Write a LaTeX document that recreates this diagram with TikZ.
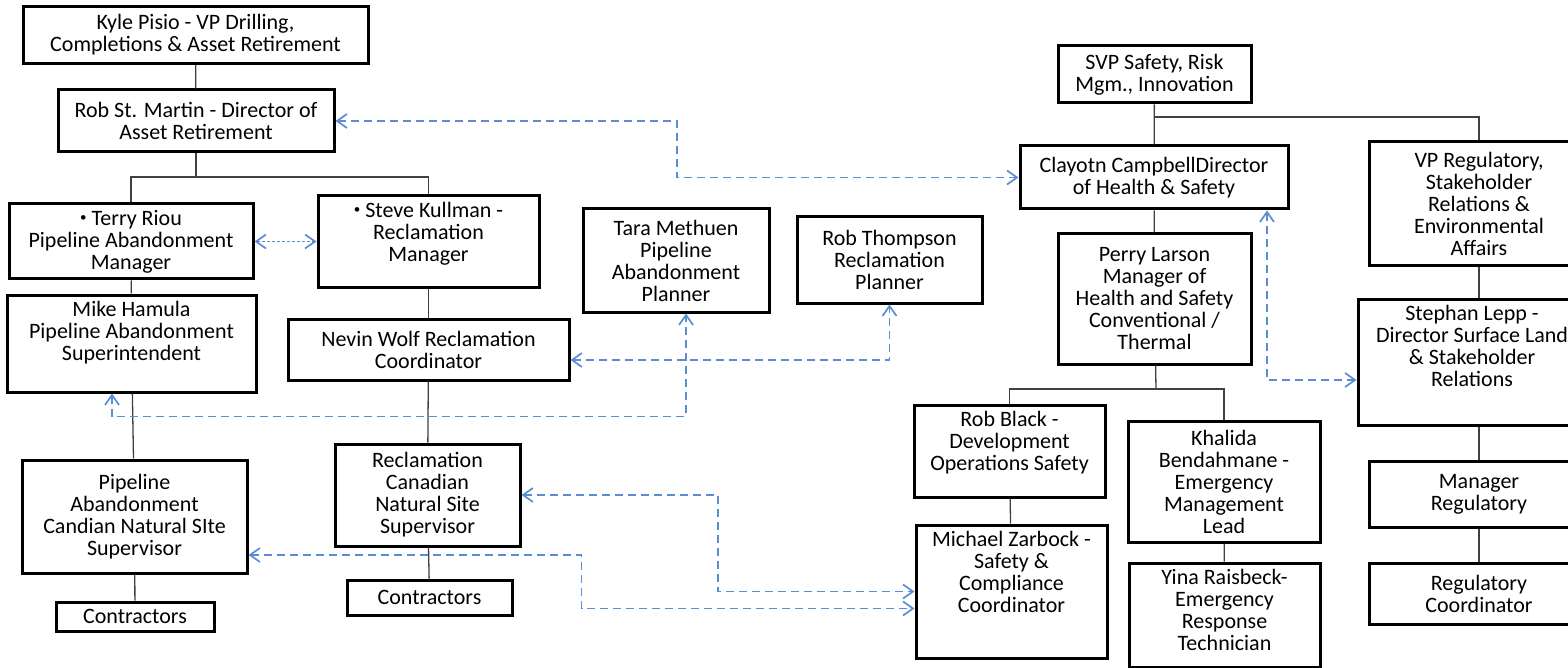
\documentclass[tikz,border=0pt]{standalone}
\usepackage{fontspec}
\setmainfont{Carlito}
\usetikzlibrary{arrows.meta, calc}
\definecolor{relblue}{RGB}{91,141,210}
\definecolor{linkgray}{RGB}{64,64,64}
\newcommand{\dotmark}{\raisebox{4pt}{\fontsize{13}{13}\selectfont\textbullet}}

\begin{document}
\begin{tikzpicture}[
    x=1pt, y=-1pt,
    box/.style={rectangle, draw, line width=3pt, align=center, inner sep=5pt, font=\fontsize{22}{22}\selectfont},
    link/.style={draw=linkgray, line width=1.3pt},
    rel/.style={draw=relblue, line width=1.7pt, dash pattern=on 8pt off 5pt, {Straight Barb[length=10pt,width=14pt]}-{Straight Barb[length=10pt,width=14pt]}},
    relfine/.style={rel, dash pattern=on 3pt off 2pt}
]
\useasboundingbox (0,0) rectangle (1568,668);
\clip (0,0) rectangle (1568,668);

% asset retirement
\node[box, minimum width=345pt, minimum height=57pt] (kyle) at (195.5,35) {Kyle Pisio - VP Drilling,\\Completions \& Asset Retirement};
\node[box, minimum width=276pt, minimum height=62pt] (rsm) at (196,121) {Rob St. Martin - Director of\\Asset Retirement};
\node[box, minimum width=244pt, minimum height=75pt] (terry) at (131,241.5) {\dotmark\ Terry Riou\\Pipeline Abandonment\\Manager};
\node[box, minimum width=221pt, minimum height=91pt, text depth=19pt] (steve) at (428.5,241.5) {\dotmark\ Steve Kullman -\\Reclamation\\Manager};
\node[box, minimum width=249pt, minimum height=97pt, text depth=25pt] (mike) at (131.5,343.5) {Mike Hamula\\Pipeline Abandonment\\Superintendent};
\node[box, minimum width=281pt, minimum height=61pt] (nevin) at (428.5,349.5) {Nevin Wolf Reclamation\\Coordinator};
\node[box, minimum width=186pt, minimum height=103pt] (tara) at (676,260.5) {Tara Methuen\\Pipeline\\Abandonment\\Planner};
\node[box, minimum width=185pt, minimum height=86pt] (thompson) at (889.5,260) {Rob Thompson\\Reclamation\\Planner};
\node[box, minimum width=225pt, minimum height=113pt] (plsup) at (134.5,516.5) {Pipeline\\Abandonment\\Candian Natural SIte\\Supervisor};
\node[box, minimum width=185pt, minimum height=102pt] (recsup) at (427.5,495) {Reclamation\\Canadian\\Natural Site\\Supervisor};
\node[box, minimum width=158pt, minimum height=29pt] (plcon) at (135,616.5) {Contractors};
\node[box, minimum width=165pt, minimum height=35pt] (reccon) at (429.5,597.5) {Contractors};

% safety and regulatory
\node[box, minimum width=193pt, minimum height=57pt] (svp) at (1154.5,74.5) {SVP Safety, Risk\\Mgm., Innovation};
\node[box, minimum width=268pt, minimum height=63pt] (clayotn) at (1154,177.5) {Clayotn CampbellDirector\\of Health \& Safety};
\node[box, minimum width=193pt, minimum height=130pt] (perry) at (1154.5,299) {Perry Larson\\Manager of\\Health and Safety\\Conventional /\\Thermal};
\node[box, minimum width=191pt, minimum height=92pt, text depth=20pt] (robblack) at (1009.5,451) {Rob Black -\\Development\\Operations Safety};
\node[box, minimum width=191pt, minimum height=133pt, text depth=39pt] (zarbock) at (1011.5,591.5) {Michael Zarbock -\\Safety \&\\Compliance\\Coordinator};
\node[box, minimum width=192pt, minimum height=121pt] (khalida) at (1224,481.5) {Khalida\\Bendahmane -\\Emergency\\Management\\Lead};
\node[box, minimum width=191pt, minimum height=104pt, text depth=10pt] (yina) at (1224.5,615) {Yina Raisbeck-\\Emergency\\Response\\Technician};
\node[box, minimum width=220pt, minimum height=124pt] (vpreg) at (1479,204) {VP Regulatory,\\Stakeholder\\Relations \&\\Environmental\\Affairs};
\node[box, minimum width=228pt, minimum height=126pt, text depth=32pt] (lepp) at (1472,362) {Stephan Lepp -\\Director Surface Land\\\& Stakeholder\\Relations};
\node[box, minimum width=220pt, minimum height=66pt] (mgrreg) at (1479,494) {Manager\\Regulatory};
\node[box, minimum width=220pt, minimum height=61pt] (regcoord) at (1479,593.5) {Regulatory\\Coordinator};

% reporting lines
\coordinate (rsmfork) at (196,177);
\coordinate (svpfork) at (1155,117);
\coordinate (perryfork) at (1156,389);
\draw[link] (kyle) -- (rsm);
\draw[link] (rsm) -- (rsmfork);
\draw[link] (terry.north) |- (rsmfork) -| (steve.north);
\draw[link] (terry) -- (mike);
\draw[link] (mike) -- (plsup);
\draw[link] (plsup) -- (plcon);
\draw[link] (steve) -- (nevin);
\draw[link] (nevin) -- (recsup);
\draw[link] (recsup) -- (reccon);
\draw[link] (svp) -- (clayotn);
\draw[link] (svpfork) -| (vpreg.north);
\draw[link] (clayotn) -- (perry);
\draw[link] (perry) -- (perryfork);
\draw[link] (robblack.north) |- (perryfork) -| (khalida.north);
\draw[link] (robblack) -- (zarbock);
\draw[link] (khalida) -- (yina);
\draw[link] (vpreg.south) -- (vpreg.south |- lepp.north);
\draw[link] (mgrreg.north |- lepp.south) -- (mgrreg.north);
\draw[link] (mgrreg) -- (regcoord);

% dotted relations
\coordinate (plsupout) at ([yshift=-38.5pt]plsup.east);
\coordinate (zarin) at ([yshift=-17pt]zarbock.west);
\draw[relfine] (terry) -- (steve);
\draw[rel] (rsm.east) -| ($(rsm.east)!.5!(clayotn.west)$) |- (clayotn.west);
\draw[rel] ([xshift=-19.5pt]mike.south) -- ++(0,23) -| ([xshift=10pt]tara.south);
\draw[rel] ([yshift=-10.5pt]nevin.east) -| (thompson.south);
\draw[rel] (recsup.east) -| ($(recsup.east)!.5!(zarbock.west)$) |- (zarbock.west);
\draw[rel] (plsupout) -| ($(plsupout)!.5!(zarin)$) |- (zarin);
\draw[rel] ([xshift=113pt]clayotn.south) |- ([yshift=-18pt]lepp.west);

\end{tikzpicture}
\end{document}
